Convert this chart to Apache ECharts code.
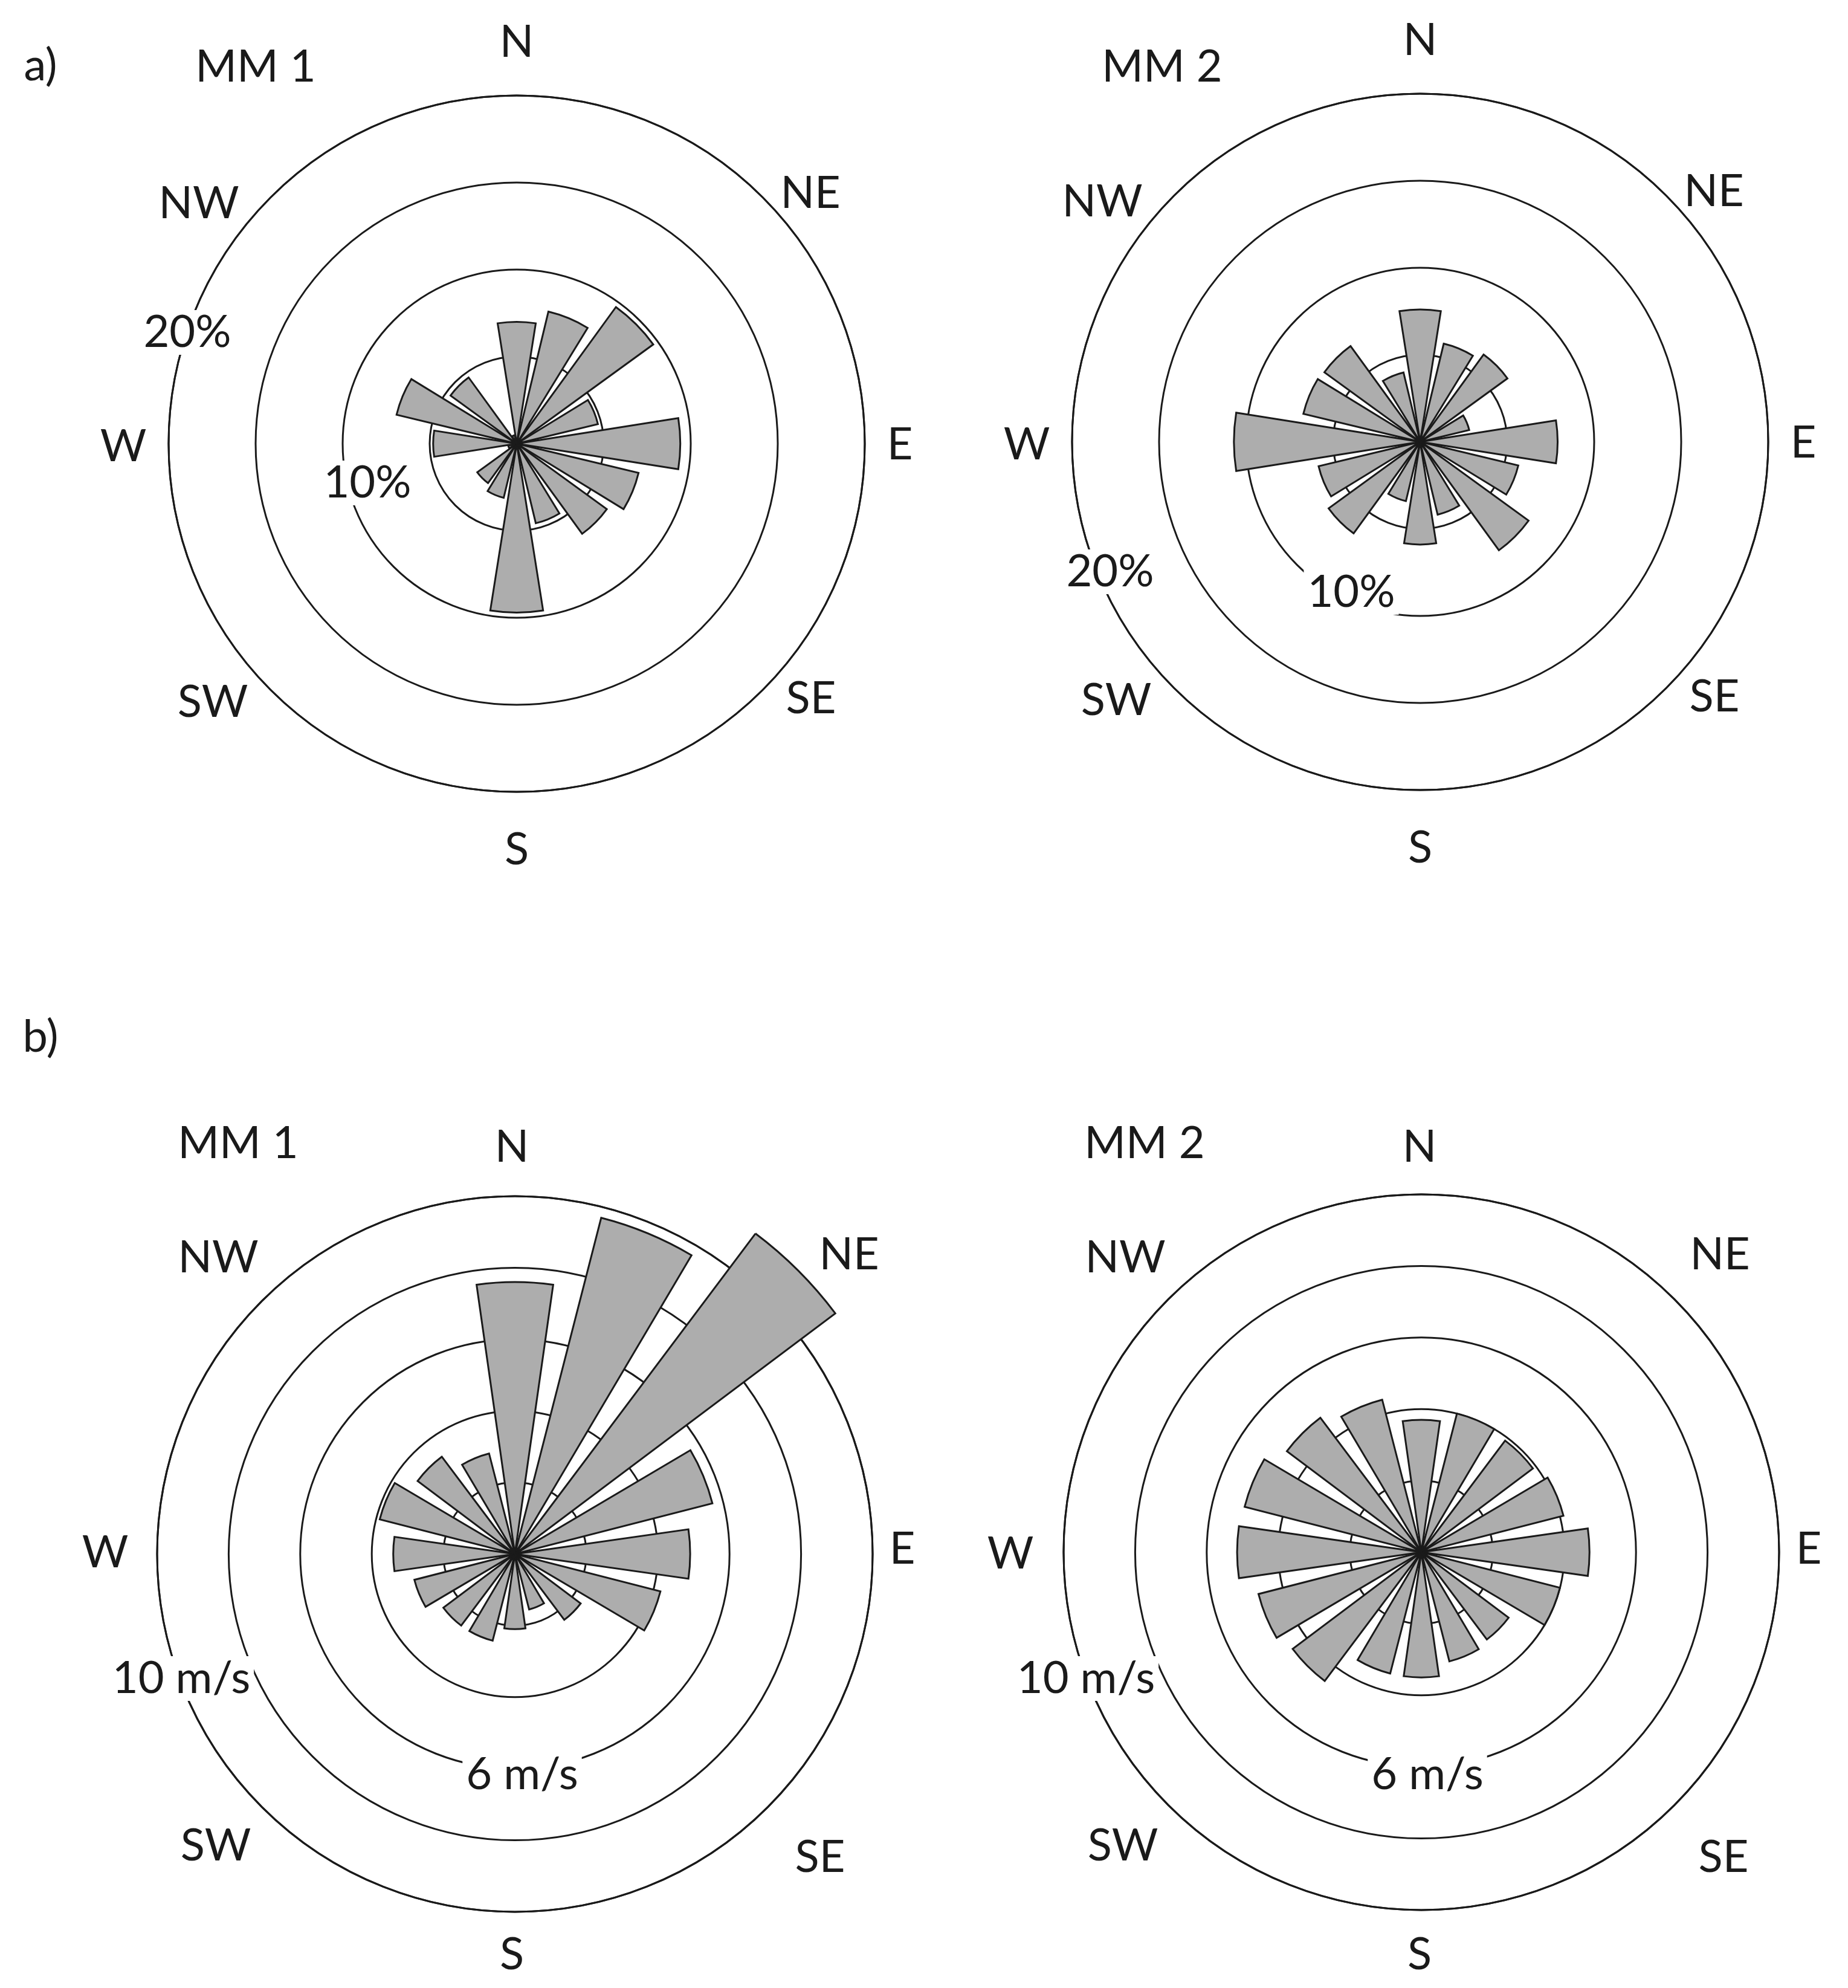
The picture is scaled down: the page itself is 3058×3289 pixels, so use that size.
<!DOCTYPE html>
<html>
<head>
<meta charset="utf-8">
<title>Wind roses MM 1 / MM 2</title>
<script src="https://cdn.jsdelivr.net/npm/echarts@6.0.0/dist/echarts.min.js"></script>
<style>
  html, body { margin: 0; padding: 0; background: #fff; }
  #chart { width: 3058px; height: 3289px; }
</style>
</head>
<body>
<div id="chart"></div>
<script>
// 16 wind sectors, clockwise from north
var directions = ['N', 'NNE', 'NE', 'ENE', 'E', 'ESE', 'SE', 'SSE',
                  'S', 'SSW', 'SW', 'WSW', 'W', 'WNW', 'NW', 'NNW'];

// a) frequency of direction (%)
var freqMM1 = [7.0, 7.8, 9.7, 4.8, 9.4, 7.2, 6.4, 4.7, 9.7, 3.2, 2.8, 0.5, 4.8, 7.1, 4.7, 0.5];
var freqMM2 = [7.6, 5.8, 6.2, 2.9, 7.9, 5.8, 7.7, 4.3, 5.9, 3.5, 6.5, 6.0, 10.7, 6.9, 6.8, 4.1];

// b) mean wind speed per direction (m/s)
var speedMM1 = [7.6, 9.7, 11.2, 5.7, 4.9, 4.2, 2.3, 1.6, 2.1, 2.5, 2.5, 2.9, 3.4, 3.9, 3.4, 2.9];
var speedMM2 = [3.7, 4.0, 3.9, 4.1, 4.7, 4.0, 3.05, 3.15, 3.5, 3.5, 4.5, 4.7, 5.15, 5.1, 4.7, 4.4];

// ring scales
var freqMax = 20, freqStep = 5;
var speedMax = 10, speedStep = 2;

var compass = ['N', 'NE', 'E', 'SE', 'S', 'SW', 'W', 'NW'];

var LINE = '#1a1a1a';
var FONT = 'Lato, "Open Sans", sans-serif';

var panels = [
  {
    center: [855, 734], radius: 576, max: freqMax, step: freqStep, data: freqMM1, barWidth: '80%',
    // compass label offsets from the centre
    offs: [[0, -664], [486, -414], [634, 2], [487, 422], [0, 672], [-503, 428], [-651, 5], [-526, -397]],
    rings: [['20%', 310, 550], ['10%', 608, 799]]
  },
  {
    center: [2350, 731], radius: 576, max: freqMax, step: freqStep, data: freqMM2, barWidth: '80%',
    offs: [[0, -664], [486, -414], [634, 2], [487, 422], [0, 672], [-503, 428], [-651, 5], [-526, -397]],
    rings: [['20%', 1837, 946], ['10%', 2236, 980]]
  },
  {
    center: [852, 2571], radius: 592, max: speedMax, step: speedStep, data: speedMM1, barWidth: '72%',
    offs: [[-5, -673], [553, -495], [641, -8], [505, 502], [-5, 663], [-495, 483], [-678, -2], [-491, -490]],
    rings: [['10 m/s', 300, 2777], ['6 m/s', 864, 2936]]
  },
  {
    center: [2352, 2568], radius: 592, max: speedMax, step: speedStep, data: speedMM2, barWidth: '72%',
    offs: [[-3, -670], [494, -492], [641, -5], [500, 505], [-3, 666], [-494, 486], [-680, 3], [-490, -487]],
    rings: [['10 m/s', 1797, 2777], ['6 m/s', 2362, 2936]]
  }
];

var titles = [
  ['a)', 67, 109], ['MM 1', 423, 111], ['MM 2', 1923, 111],
  ['b)', 67, 1716], ['MM 1', 394, 1892], ['MM 2', 1894, 1892]
];

var myChart = echarts.init(document.getElementById('chart'), null, { renderer: 'canvas' });

var polar = [], angleAxis = [], radiusAxis = [], series = [], graphic = [];

function txt(s, x, y, bg) {
  var st = {
    text: s, x: x, y: y,
    fill: '#1a1a1a',
    fontSize: 74,
    fontFamily: FONT,
    align: 'center',
    verticalAlign: 'middle'
  };
  if (bg) {
    st.backgroundColor = '#fff';
    st.padding = [0, 6];
  }
  return { type: 'text', z: 100, silent: true, style: st };
}

panels.forEach(function (p, i) {
  polar.push({ center: p.center, radius: p.radius });

  angleAxis.push({
    polarIndex: i,
    type: 'category',
    data: directions,
    startAngle: 90 + 360 / directions.length / 2, // N centred at the top
    clockwise: true,
    boundaryGap: true,
    axisLine: { show: true, lineStyle: { color: LINE, width: 3 } },
    axisTick: { show: false },
    axisLabel: { show: false },
    splitLine: { show: false }
  });

  radiusAxis.push({
    polarIndex: i,
    type: 'value',
    min: 0,
    max: p.max,
    interval: p.step,
    axisLine: { show: false },
    axisTick: { show: false },
    axisLabel: { show: false },
    splitLine: { show: true, lineStyle: { color: LINE, width: 3 } }
  });

  series.push({
    type: 'bar',
    coordinateSystem: 'polar',
    polarIndex: i,
    data: p.data,
    barWidth: p.barWidth,
    clip: false,
    silent: true,
    itemStyle: { color: '#adadad', borderColor: LINE, borderWidth: 3 }
  });

  compass.forEach(function (c, k) {
    graphic.push(txt(c, p.center[0] + p.offs[k][0], p.center[1] + p.offs[k][1]));
  });
  p.rings.forEach(function (r) {
    graphic.push(txt(r[0], r[1], r[2], true));
  });
});

titles.forEach(function (t) {
  graphic.push(txt(t[0], t[1], t[2]));
});

myChart.setOption({
  backgroundColor: '#fff',
  animation: false,
  polar: polar,
  angleAxis: angleAxis,
  radiusAxis: radiusAxis,
  series: series,
  graphic: graphic
});
</script>
</body>
</html>
